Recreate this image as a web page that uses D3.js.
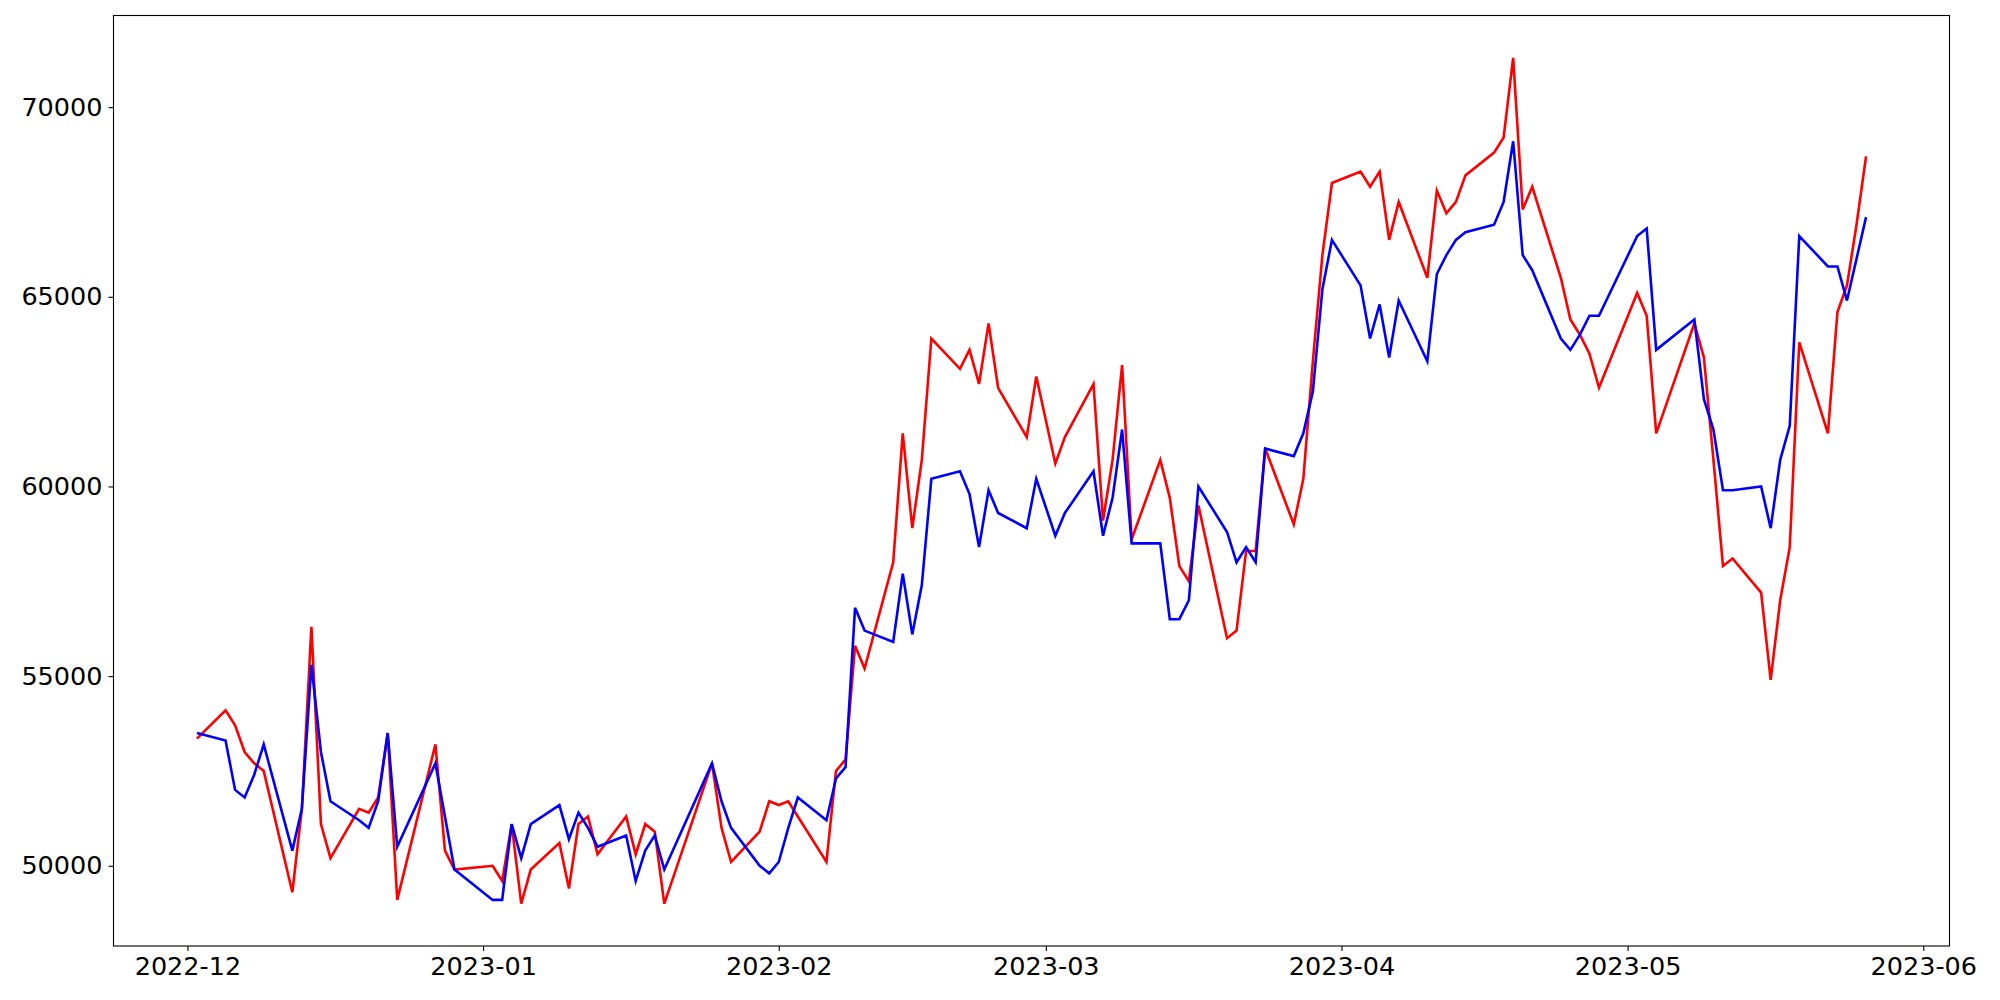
<!DOCTYPE html>
<html>
<head>
<meta charset="utf-8">
<script src="https://cdn.jsdelivr.net/npm/d3@7"></script>
<style>
  html, body { margin: 0; padding: 0; background: #fff; }
  svg { display: block; }
  .tick text { font-family: "DejaVu Sans", sans-serif; }
</style>
</head>
<body>
<svg id="chart" width="2000" height="1000"></svg>
<script>
const dates = [
  "2022-12-02",
  "2022-12-05","2022-12-06","2022-12-07","2022-12-08","2022-12-09",
  "2022-12-12","2022-12-13","2022-12-14","2022-12-15","2022-12-16",
  "2022-12-19","2022-12-20","2022-12-21","2022-12-22","2022-12-23",
  "2022-12-27","2022-12-28","2022-12-29",
  "2023-01-02","2023-01-03","2023-01-04","2023-01-05","2023-01-06",
  "2023-01-09","2023-01-10","2023-01-11","2023-01-12","2023-01-13",
  "2023-01-16","2023-01-17","2023-01-18","2023-01-19","2023-01-20",
  "2023-01-25","2023-01-26","2023-01-27",
  "2023-01-30","2023-01-31","2023-02-01","2023-02-02","2023-02-03",
  "2023-02-06","2023-02-07","2023-02-08","2023-02-09","2023-02-10",
  "2023-02-13","2023-02-14","2023-02-15","2023-02-16","2023-02-17",
  "2023-02-20","2023-02-21","2023-02-22","2023-02-23","2023-02-24",
  "2023-02-27","2023-02-28",
  "2023-03-02","2023-03-03",
  "2023-03-06","2023-03-07","2023-03-08","2023-03-09","2023-03-10",
  "2023-03-13","2023-03-14","2023-03-15","2023-03-16","2023-03-17",
  "2023-03-20","2023-03-21","2023-03-22","2023-03-23","2023-03-24",
  "2023-03-27","2023-03-28","2023-03-29","2023-03-30","2023-03-31",
  "2023-04-03","2023-04-04","2023-04-05","2023-04-06","2023-04-07",
  "2023-04-10","2023-04-11","2023-04-12","2023-04-13","2023-04-14",
  "2023-04-17","2023-04-18","2023-04-19","2023-04-20","2023-04-21",
  "2023-04-24","2023-04-25","2023-04-26","2023-04-27","2023-04-28",
  "2023-05-02","2023-05-03","2023-05-04",
  "2023-05-08","2023-05-09","2023-05-10","2023-05-11","2023-05-12",
  "2023-05-15","2023-05-16","2023-05-17","2023-05-18","2023-05-19",
  "2023-05-22","2023-05-23","2023-05-24","2023-05-25","2023-05-26"
];

const redValues = [
  53350,
  54100,53700,53000,52700,52500,
  49300,51500,56300,51100,50200,
  51500,51400,51800,53500,49100,
  53200,50400,49900,
  50000,49600,51100,49000,49900,
  50600,49400,51100,51300,50300,
  51300,50300,51100,50900,49000,
  52700,51000,50100,
  50900,51700,51600,51700,51300,
  50100,52500,52800,55800,55200,
  58000,61400,58900,60700,63900,
  63100,63600,62700,64300,62600,
  61300,62900,
  60600,61300,
  62700,59100,60700,63200,58600,
  60700,59700,57900,57500,59500,
  56000,56200,58300,58300,61000,
  59000,60200,63300,66100,68000,
  68300,67900,68300,66500,67500,
  65500,67800,67200,67500,68200,
  68800,69200,71300,67300,67900,
  65500,64400,64000,63500,62600,
  65100,64500,61400,
  64300,63400,60700,57900,58100,
  57200,54900,57000,58400,63800,
  61400,64600,65300,66900,68700
];

const blueValues = [
  53500,
  53300,52000,51800,52400,53200,
  50400,51500,55300,53000,51700,
  51200,51000,51700,53500,50500,
  52700,51300,49900,
  49100,49100,51100,50200,51100,
  51600,50700,51400,51000,50500,
  50800,49600,50400,50800,49900,
  52700,51700,51000,
  50000,49800,50100,51000,51800,
  51200,52300,52600,56800,56200,
  55900,57700,56100,57400,60200,
  60400,59800,58400,59900,59300,
  58900,60200,
  58700,59300,
  60400,58700,59700,61500,58500,
  58500,56500,56500,57000,60000,
  58800,58000,58400,58000,61000,
  60800,61400,62500,65200,66500,
  65300,63900,64800,63400,64900,
  63300,65600,66100,66500,66700,
  66900,67500,69100,66100,65700,
  63900,63600,64000,64500,64500,
  66600,66800,63600,
  64400,62300,61500,59900,59900,
  60000,58900,60700,61600,66600,
  65800,65800,64900,66000,67100
];

const yTicks = [50000, 55000, 60000, 65000, 70000];
const seriesColors = ["#ff0000", "#0000ff"];

const parse = d3.timeParse("%Y-%m-%d");
const x0 = dates.map(parse);
const series = [redValues, blueValues];

const svg = d3.select("#chart");
const margin = { left: 113.5, right: 50.5, top: 15.5, bottom: 54 };
const W = 2000, H = 1000;
const iw = W - margin.left - margin.right;
const ih = H - margin.top - margin.bottom;

// matplotlib-like 5% margins
const xExt = d3.extent(x0);
const xPad = (xExt[1] - xExt[0]) * 0.05;
const x = d3.scaleTime()
  .domain([new Date(+xExt[0] - xPad), new Date(+xExt[1] + xPad)])
  .range([margin.left, margin.left + iw]);

const allVals = redValues.concat(blueValues);
const yExt = d3.extent(allVals);
const yPad = (yExt[1] - yExt[0]) * 0.05;
const y = d3.scaleLinear()
  .domain([yExt[0] - yPad, yExt[1] + yPad])
  .range([margin.top + ih, margin.top]);

const line = d3.line()
  .x((d, i) => x(x0[i]))
  .y(d => y(d));

series.forEach((vals, k) => {
  svg.append("path")
    .datum(vals)
    .attr("fill", "none")
    .attr("stroke", seriesColors[k])
    .attr("stroke-width", 2.6)
    .attr("stroke-linejoin", "miter")
    .attr("d", line);
});

// axes
const xAxis = d3.axisBottom(x)
  .ticks(d3.timeMonth.every(1))
  .tickFormat(d3.timeFormat("%Y-%m"))
  .tickSize(5).tickPadding(6);
const yAxis = d3.axisLeft(y)
  .tickValues(yTicks)
  .tickFormat(d3.format("d"))
  .tickSize(5).tickPadding(6);

const gx = svg.append("g")
  .attr("transform", `translate(0,${margin.top + ih})`)
  .call(xAxis);
const gy = svg.append("g")
  .attr("transform", `translate(${margin.left},0)`)
  .call(yAxis);

[gx, gy].forEach(g => {
  g.select(".domain").remove();
  g.selectAll(".tick line").attr("stroke", "#000").attr("stroke-width", 1.1);
  g.selectAll(".tick text")
    .attr("fill", "#000")
    .style("font-size", "25.5px")
    .style("font-family", "'DejaVu Sans', sans-serif");
});

// frame (spines)
svg.append("rect")
  .attr("x", margin.left)
  .attr("y", margin.top)
  .attr("width", iw)
  .attr("height", ih)
  .attr("fill", "none")
  .attr("stroke", "#000")
  .attr("stroke-width", 1.1);
</script>
</body>
</html>
